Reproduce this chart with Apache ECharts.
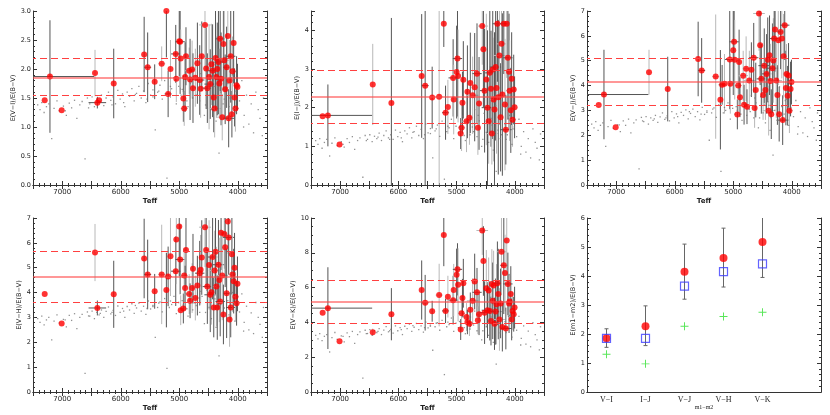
<!DOCTYPE html>
<html>
<head>
<meta charset="utf-8">
<script src="https://cdn.jsdelivr.net/npm/echarts@6/dist/echarts.min.js"></script>
<style>
  html, body { margin: 0; padding: 0; background: #fff; }
  #main { width: 830px; height: 415px; }
</style>
</head>
<body>
<div id="main"></div>
<script>
// red stars: Teff is shared by all five colour panels
const starTeff = [7300,7210,7010,6440,6400,6370,6120,5600,5540,5420,
  5300,5220,5190,5150,5060,5050,5000,4985,4975,4930,
  4915,4900,4885,4830,4815,4780,4765,4725,4690,4650,
  4635,4615,4560,4540,4520,4490,4470,4450,4430,4410,
  4395,4380,4365,4350,4330,4315,4300,4285,4265,4245,
  4230,4215,4190,4170,4155,4140,4120,4100,4090,4070,
  4055,4040,4020,4005]
const starTeffErr = [0,760,0,0,150,0,0,0,60,0,
  60,0,60,0,80,0,0,80,0,0,
  60,0,0,80,0,60,0,100,0,80,
  0,0,100,0,80,0,100,0,80,0,
  100,0,60,0,100,0,80,0,100,0,
  80,0,60,0,100,0,80,0,60,0,
  0,60,0,0]
// 1 = light grey error bar, 0 = dark grey
const starShade = [0,0,0,1,0,0,0,0,0,0, 1,0,0,1,0,1,0,0,1,0, 1,0,0,1,0,1,0,1,0,0,
  1,0,1,0,0,1,0,1,0,0, 1,0,1,0,0,1,0,0,1,0, 1,0,0,1,0,1,0,0,1,0, 0,1,0,0]

const viVal = [1.46,1.87,1.29,1.93,1.42,1.46,1.75,2.25,2.03,1.78,
  2.09,3.00,1.57,2.00,2.26,1.83,2.48,2.47,2.18,1.49,
  1.32,1.86,2.22,1.97,1.82,1.99,1.67,1.85,2.10,1.81,
  1.66,2.22,2.76,2.01,1.67,1.86,1.74,2.08,1.97,1.51,
  1.32,2.19,1.86,2.00,2.12,1.75,2.52,1.83,1.17,2.43,
  2.15,1.65,2.03,2.57,1.15,1.80,2.22,1.22,1.96,2.45,
  1.51,1.32,1.72,1.69]
const viErr = [0,0.97,0,0.4,0.1,0,0.6,0.65,0.6,0.3,
  0.3,0.8,0.4,0.5,0.5,0.4,0.6,0.9,0.5,0.4,
  0.3,0.6,0.5,0.4,0.7,0.5,0.6,0.5,0.7,0.6,
  0.5,0.6,0.8,0.7,0.6,0.9,0.6,0.7,0.8,0.6,
  0.5,0.9,0.7,0.8,0.9,0.6,0.9,0.8,0.4,0.8,
  1.0,0.6,0.7,0.9,0.5,0.7,0.8,0.4,0.6,0.7,
  0.5,0.4,0.5,0.4]

const ijVal = [1.78,1.80,1.05,2.60,null,null,2.12,2.82,2.57,2.26,
  2.28,4.17,1.87,2.02,2.77,2.21,2.92,3.27,2.82,1.33,
  1.48,2.13,2.72,1.65,2.41,1.74,2.64,2.32,2.53,2.88,
  1.48,2.11,4.11,3.51,2.44,2.73,2.00,1.65,2.90,2.49,
  1.33,2.99,2.21,1.95,3.05,2.51,4.17,2.27,3.35,1.75,
  3.65,2.34,4.17,2.08,1.43,4.17,3.29,2.93,2.44,1.93,
  2.75,1.69,2.47,2.01]
const ijErr = [0,0.8,0,1.05,0,0,2.2,1.6,2.6,0.8,
  2.3,0.6,0.7,0.7,1.0,0.9,1.2,1.5,1.2,0.4,
  0.6,0.8,1.0,0.8,1.2,0.7,1.3,1.0,1.4,1.3,
  0.7,1.2,1.0,1.5,1.6,1.7,2.0,1.1,1.6,1.5,
  0.8,1.8,1.6,2.0,1.9,1.7,1.5,2.0,1.8,1.4,
  1.9,2.1,1.3,1.7,0.9,1.4,1.6,1.5,1.3,1.1,
  1.2,0.7,0.9,0.8]

const vjVal = [3.22,3.64,2.32,4.54,null,null,3.86,5.07,4.61,null,
  4.36,3.43,4.03,4.07,5.05,4.07,5.42,5.76,5.04,2.84,
  4.00,4.95,3.53,4.40,3.23,4.68,3.15,4.20,4.64,5.12,
  3.10,3.82,6.90,5.62,4.27,3.62,4.80,3.82,4.47,5.04,
  2.99,5.22,4.18,2.85,4.70,5.01,5.89,6.26,4.20,3.62,
  5.82,2.85,6.16,5.89,2.61,5.18,6.43,3.90,4.47,3.59,
  4.41,2.99,3.86,4.14]
const vjErr = [0,1.8,0,0.9,0,0,1.3,1.5,1.3,0,
  2.5,2.0,0.8,1.2,2.0,1.2,1.8,1.7,1.6,0.6,
  1.1,1.3,0.8,1.0,0.8,1.3,0.7,1.2,1.1,1.4,
  0.8,1.1,1.5,1.6,1.4,1.0,1.5,1.2,1.6,1.7,
  1.0,1.6,1.5,1.0,1.8,1.7,1.6,1.7,1.5,1.2,
  1.8,1.1,1.5,1.6,1.0,1.7,1.4,1.5,1.2,1.2,
  1.3,0.9,1.1,0.9]

const vhVal = [3.94,null,2.76,5.61,3.38,null,3.93,5.37,4.73,4.05,
  4.73,4.10,4.65,5.46,4.86,6.14,6.66,5.33,3.29,3.36,
  4.69,4.18,5.71,3.94,3.67,4.18,4.96,3.78,4.28,4.78,
  4.92,5.41,6.63,5.71,4.24,5.11,3.91,4.01,5.43,3.40,
  4.89,5.64,4.24,3.40,5.12,4.51,3.64,6.41,4.69,3.12,
  6.36,5.82,3.97,6.86,6.22,2.92,3.40,5.54,4.73,4.46,
  5.00,3.83,3.57,4.35]
const vhErr = [0,0,0,1.15,0.3,0,1.35,1.6,1.4,0.7,
  2.0,1.5,1.2,1.6,1.4,1.8,2.0,1.4,0.6,0.6,
  1.1,0.9,1.5,0.8,0.7,1.0,1.4,0.9,1.2,1.3,
  1.4,1.5,1.6,1.5,1.5,1.8,1.5,1.3,1.7,1.2,
  1.6,1.7,1.6,1.3,1.8,1.7,1.4,1.5,1.8,1.2,
  1.4,1.6,1.8,1.3,1.5,1.1,1.2,1.6,1.5,1.3,
  1.4,1.0,0.9,1.1]

const vkVal = [4.56,4.82,2.91,3.44,null,null,4.47,5.86,5.13,4.64,
  5.57,9.03,4.66,5.48,5.28,5.86,6.74,7.05,6.16,3.59,
  4.52,5.40,6.25,4.31,4.02,3.92,4.72,5.24,6.35,5.73,
  4.12,4.47,9.28,7.53,4.56,5.96,4.70,5.83,4.66,4.08,
  6.21,5.24,6.12,3.92,4.62,5.05,6.25,5.63,4.17,5.09,
  8.06,3.73,7.28,6.84,3.65,8.70,6.21,5.09,5.20,5.63,
  4.17,4.66,4.47,4.85]
const vkErr = [0,2.35,0,0.2,0,0,1.5,1.7,1.6,0.6,
  1.8,1.8,0.7,1.2,1.4,1.5,1.5,1.5,2.1,0.6,
  1.0,1.1,1.4,0.8,0.7,0.7,1.0,1.3,1.6,1.4,
  0.8,1.2,1.4,2.0,1.8,2.2,1.6,1.9,1.7,1.4,
  2.0,2.2,2.0,1.5,1.9,2.3,2.4,2.6,1.8,2.0,
  2.5,1.4,2.8,2.2,1.2,2.0,1.8,1.7,1.5,1.6,
  1.2,1.1,1.0,1.2]

// grey background (field) stars
const bgTeff = [7420,7380,7350,7310,7270,7230,7180,7140,7090,7050,
  6980,6930,6880,6840,6790,6750,6700,6660,6610,6570,
  6530,6490,6450,6410,6370,6330,6290,6250,6210,6170,
  6130,6090,6050,6010,5970,5930,5890,5850,5810,5770,
  5730,5690,5650,5610,5570,5530,5490,5450,5410,5370,
  5330,5290,5250,5210,5170,5130,5090,5050,5010,4970,
  4930,4890,4850,4810,4770,4730,4690,4650,4610,4570,
  4530,4490,4450,4410,4370,4330,4290,4250,4210,4170,
  4130,4090,4050,4010,3970,3930,3890,3850,3810,3770,
  3730,3690,3650,3620,3580,3560,4470,4320,4150,3900,
  4950,4870,4790,4710,4630,4550,4390,4230,4110,4030,
  5950,5750,5550,5350,6150,6350,6550,6950,5150,5450]
const bgVI = [1.38,1.30,1.42,1.25,1.35,1.40,0.80,1.32,1.45,1.28,
  1.36,1.20,1.41,1.33,1.46,1.15,1.38,1.44,0.45,1.50,
  1.40,1.52,1.35,1.48,1.43,1.55,1.37,1.50,1.60,1.46,
  1.52,1.40,1.63,1.48,1.57,1.35,1.60,1.53,1.66,1.45,
  1.58,1.70,1.50,1.62,1.42,1.75,1.55,1.64,0.95,1.60,
  1.72,1.48,1.80,0.12,1.58,1.66,1.85,1.40,1.70,1.55,
  1.62,1.90,1.35,1.75,1.50,1.68,2.05,1.45,1.80,1.20,
  1.95,1.55,1.30,1.85,1.10,2.10,1.60,1.40,2.20,1.75,
  1.50,1.90,1.25,1.65,1.45,1.80,1.20,1.55,1.05,1.40,
  0.90,1.60,1.30,1.15,0.85,1.50,1.72,0.55,1.35,1.00,
  1.65,1.45,1.78,1.55,1.92,1.38,1.70,1.48,1.85,1.62,
  1.42,1.56,1.48,1.62,1.38,1.44,1.33,1.28,1.70,1.52]
const bgIJ = [1.15,1.05,1.20,0.95,1.10,1.18,0.75,1.08,1.22,1.02,
  1.12,0.98,1.20,1.10,1.25,0.92,1.15,1.22,0.20,1.28,
  1.18,1.30,1.12,1.26,1.20,1.34,1.15,1.28,1.40,1.22,
  1.30,1.18,1.42,1.25,1.36,1.12,1.40,1.32,1.48,1.22,
  1.38,1.52,1.28,1.44,1.20,1.58,1.35,1.46,0.70,1.40,
  1.55,1.26,1.65,0.15,1.38,1.48,1.70,1.20,1.52,1.35,
  1.45,1.78,1.15,1.60,1.30,1.50,1.95,1.25,1.66,1.00,
  1.85,1.36,1.10,1.72,0.90,2.05,1.42,1.20,2.15,1.58,
  1.30,1.80,1.05,1.50,1.25,1.70,1.00,1.38,0.85,1.20,
  0.70,1.45,1.10,0.95,0.65,1.32,1.60,0.35,1.18,0.80,
  1.50,1.28,1.62,1.38,1.80,1.18,1.55,1.30,1.72,1.45,
  1.22,1.36,1.30,1.45,1.18,1.24,1.15,1.05,1.52,1.33]
const bgVJ = [2.45,2.30,2.55,2.20,2.40,2.50,1.55,2.35,2.60,2.28,
  2.42,2.15,2.58,2.40,2.65,2.10,2.50,2.62,0.65,2.72,
  2.55,2.75,2.45,2.70,2.60,2.80,2.52,2.74,2.90,2.64,
  2.78,2.58,2.95,2.70,2.86,2.50,2.92,2.80,3.02,2.66,
  2.88,3.05,2.75,2.95,2.62,3.12,2.84,2.98,1.80,2.90,
  3.10,2.72,3.22,0.55,2.90,3.00,3.30,2.65,3.08,2.85,
  3.00,3.40,2.60,3.20,2.80,3.05,3.60,2.70,3.30,2.30,
  3.55,2.90,2.50,3.35,2.20,3.80,3.00,2.60,3.95,3.15,
  2.85,3.45,2.40,3.10,2.75,3.40,2.35,2.95,2.10,2.70,
  1.95,3.10,2.55,2.30,1.80,2.90,3.25,1.20,2.65,2.05,
  3.15,2.85,3.28,2.95,3.50,2.70,3.20,2.88,3.40,3.05,
  2.75,2.95,2.85,3.05,2.70,2.66,2.58,2.42,3.12,2.92]
const bgVH = [2.95,2.80,3.05,2.70,2.90,3.00,2.10,2.85,3.10,2.78,
  2.92,2.62,3.08,2.88,3.15,2.55,3.00,3.12,0.75,3.22,
  3.05,3.25,2.95,3.20,3.10,3.30,3.00,3.24,3.42,3.14,
  3.28,3.08,3.46,3.20,3.36,3.00,3.44,3.30,3.55,3.16,
  3.38,3.58,3.25,3.45,3.12,3.66,3.34,3.48,2.20,3.40,
  3.62,3.22,3.76,0.95,3.40,3.52,3.85,3.15,3.60,3.35,
  3.50,3.95,3.05,3.72,3.30,3.58,4.20,3.20,3.85,2.75,
  4.10,3.40,2.95,3.90,2.60,4.40,3.52,3.08,4.55,3.68,
  3.35,4.00,2.85,3.62,3.22,3.95,2.80,3.45,2.50,3.18,
  2.35,3.60,3.00,2.72,2.20,3.40,3.80,1.45,3.10,2.45,
  3.68,3.35,3.82,3.48,4.05,3.20,3.75,3.38,3.95,3.58,
  3.25,3.48,3.36,3.58,3.20,3.16,3.06,2.90,3.66,3.44]
const bgVK = [3.25,3.05,3.35,2.95,3.20,3.30,2.30,3.12,3.42,3.02,
  3.22,2.88,3.40,3.18,3.48,2.80,3.30,3.45,0.80,3.55,
  3.36,3.58,3.25,3.52,3.42,3.64,3.30,3.56,3.76,3.46,
  3.60,3.38,3.80,3.52,3.70,3.30,3.78,3.64,3.90,3.48,
  3.72,3.94,3.58,3.80,3.44,4.02,3.68,3.84,2.40,3.75,
  3.98,3.55,4.12,1.00,3.75,3.88,4.25,3.48,3.96,3.70,
  3.85,4.35,3.35,4.10,3.62,3.95,4.65,3.52,4.25,3.00,
  4.50,3.75,3.25,4.30,2.85,4.85,3.88,3.40,5.00,4.05,
  3.70,4.40,3.15,4.00,3.55,4.35,3.08,3.80,2.75,3.50,
  2.60,3.98,3.30,3.00,2.42,3.75,4.20,1.60,3.42,2.70,
  4.05,3.70,4.20,3.85,4.45,3.52,4.12,3.72,4.35,3.95,
  3.58,3.82,3.70,3.95,3.52,3.48,3.36,3.20,4.02,3.78]

// summary panel
const colourNames = ['V−I', 'I−J', 'V−J', 'V−H', 'V−K', '']
const meanRatio = [1.85, 2.27, 4.15, 4.62, 5.17]
const ratioLow = [1.54, 1.60, 3.20, 3.62, 3.95]
const ratioHigh = [2.18, 2.97, 5.10, 5.65, 6.40]
const squareRatio = [1.85, 1.85, 3.65, 4.15, 4.42]
const crossRatio = [1.30, 0.97, 2.27, 2.60, 2.75]

const panels = [
  { name: 'E(V−I)/E(B−V)', max: 3, step: 0.5, minor: 5, vals: viVal, errs: viErr, bg: bgVI },
  { name: 'E(I−J)/E(B−V)', max: 4.5, step: 1, minor: 5, vals: ijVal, errs: ijErr, bg: bgIJ },
  { name: 'E(V−J)/E(B−V)', max: 7, step: 1, minor: 5, vals: vjVal, errs: vjErr, bg: bgVJ },
  { name: 'E(V−H)/E(B−V)', max: 7, step: 1, minor: 5, vals: vhVal, errs: vhErr, bg: bgVH },
  { name: 'E(V−K)/E(B−V)', max: 10, step: 2, minor: 4, vals: vkVal, errs: vkErr, bg: bgVK }
]

const gridBoxes = [
  { left: 33, top: 11, width: 234, height: 174 },
  { left: 311, top: 11, width: 233, height: 174 },
  { left: 587, top: 11, width: 234, height: 174 },
  { left: 33, top: 218, width: 234, height: 174 },
  { left: 311, top: 218, width: 233, height: 174 },
  { left: 587, top: 218, width: 234, height: 174 }
]

const FONT = 'DejaVu Sans'
const axisLine = { show: true, lineStyle: { color: '#333', width: 1 } }
const tick = { show: true, inside: true, length: 4, lineStyle: { color: '#333' } }
const minor = n => ({ show: true, splitNumber: n, length: 2, lineStyle: { color: '#333' } })

const xAxis = []
const yAxis = []
const series = []

panels.forEach((p, gi) => {
  const xBase = {
    gridIndex: gi, type: 'value', min: 3500, max: 7500, interval: 500, inverse: true,
    axisLine, axisTick: tick, minorTick: minor(5), splitLine: { show: false }
  }
  xAxis.push(Object.assign({}, xBase, {
    position: 'bottom', name: 'Teff', nameLocation: 'middle', nameGap: 13,
    nameTextStyle: { fontSize: 7, fontFamily: FONT, fontWeight: 'bold', color: '#222' },
    axisLabel: {
      fontSize: 7, fontFamily: FONT, color: '#222', margin: 4,
      formatter: v => (v % 1000 === 0) ? String(v) : ''
    }
  }))
  xAxis.push(Object.assign({}, xBase, { position: 'top', axisLabel: { show: false } }))

  const yBase = {
    gridIndex: gi, type: 'value', min: 0, max: p.max, interval: p.step,
    axisLine, axisTick: tick, minorTick: minor(p.minor), splitLine: { show: false }
  }
  yAxis.push(Object.assign({}, yBase, {
    position: 'left', name: p.name, nameLocation: 'middle', nameGap: p.step < 1 ? 11 : 8,
    nameTextStyle: { fontSize: 6.5, fontFamily: FONT, color: '#222' },
    axisLabel: {
      fontSize: 6.5, fontFamily: FONT, color: '#222', margin: 2,
      formatter: v => p.step < 1 ? v.toFixed(1) : (Number.isInteger(v) ? String(v) : '')
    }
  }))
  yAxis.push(Object.assign({}, yBase, { position: 'right', axisLabel: { show: false } }))

  const xi = gi * 2
  const bgData = bgTeff.map((t, i) => [t, p.bg[i]])
  const starData = []
  starTeff.forEach((t, i) => {
    if (p.vals[i] != null) starData.push([t, p.vals[i], p.errs[i], starTeffErr[i], starShade[i]])
  })
  const lo = ratioLow[gi], hi = ratioHigh[gi], mean = meanRatio[gi]

  series.push({
    type: 'scatter', xAxisIndex: xi, yAxisIndex: xi, data: bgData,
    symbol: 'rect', symbolSize: 1.3, itemStyle: { color: '#777' }, silent: true
  })
  series.push({
    type: 'custom', xAxisIndex: xi, yAxisIndex: xi, clip: true, silent: true,
    data: starData,
    renderItem: (params, api) => {
      const x = api.value(0), y = api.value(1), ey = api.value(2), ex = api.value(3)
      const color = api.value(4) ? '#b8b8b8' : '#555'
      const kids = []
      if (ey > 0) {
        const a = api.coord([x, y - ey]), b = api.coord([x, y + ey])
        kids.push({ type: 'line', shape: { x1: a[0], y1: a[1], x2: b[0], y2: b[1] }, style: { stroke: color, lineWidth: 1 } })
      }
      if (ex > 0) {
        const a = api.coord([x - ex, y]), b = api.coord([x + ex, y])
        kids.push({ type: 'line', shape: { x1: a[0], y1: a[1], x2: b[0], y2: b[1] }, style: { stroke: color, lineWidth: 1 } })
      }
      return { type: 'group', children: kids }
    }
  })
  series.push({
    type: 'scatter', xAxisIndex: xi, yAxisIndex: xi, data: [], silent: true,
    markLine: {
      silent: true, symbol: 'none', label: { show: false }, animation: false,
      data: [
        { yAxis: mean, lineStyle: { type: 'solid', width: 1.6, color: 'rgba(255,70,70,0.75)' } },
        { yAxis: hi, lineStyle: { type: [7, 4], width: 1.2, color: '#ff4040' } },
        { yAxis: lo, lineStyle: { type: [7, 4], width: 1.2, color: '#ff4040' } }
      ]
    }
  })
  series.push({
    type: 'scatter', xAxisIndex: xi, yAxisIndex: xi, data: starData.map(d => [d[0], d[1]]),
    symbol: 'circle', symbolSize: 6, itemStyle: { color: '#ff0000' }, silent: true
  })
})

// summary panel (grid 5)
const sXBase = {
  gridIndex: 5, type: 'category', data: colourNames, boundaryGap: true,
  axisLine, axisTick: { show: false }, splitLine: { show: false }
}
xAxis.push(Object.assign({}, sXBase, {
  position: 'bottom', name: 'm1−m2', nameLocation: 'middle', nameGap: 12,
  nameTextStyle: { fontSize: 6, fontFamily: 'Liberation Serif', color: '#222' },
  axisLabel: { fontSize: 8, fontFamily: 'Liberation Serif', color: '#222', margin: 4, interval: 0 }
}))
xAxis.push(Object.assign({}, sXBase, { position: 'top', axisLabel: { show: false } }))
const sYBase = {
  gridIndex: 5, type: 'value', min: 0, max: 6, interval: 1,
  axisLine, axisTick: tick, minorTick: minor(5), splitLine: { show: false }
}
yAxis.push(Object.assign({}, sYBase, {
  position: 'left', name: 'E(m1−m2)/E(B−V)', nameLocation: 'middle', nameGap: 8,
  nameTextStyle: { fontSize: 6.5, fontFamily: FONT, color: '#222' },
  axisLabel: { fontSize: 6.5, fontFamily: FONT, color: '#222', margin: 2 }
}))
yAxis.push(Object.assign({}, sYBase, { position: 'right', axisLabel: { show: false } }))

series.push({
  type: 'custom', xAxisIndex: 10, yAxisIndex: 10, clip: true, silent: true,
  data: meanRatio.map((m, i) => [i, ratioLow[i], ratioHigh[i]]),
  renderItem: (params, api) => {
    const a = api.coord([api.value(0), api.value(1)])
    const b = api.coord([api.value(0), api.value(2)])
    const st = { stroke: '#666', lineWidth: 1 }
    return {
      type: 'group', children: [
        { type: 'line', shape: { x1: a[0], y1: a[1], x2: b[0], y2: b[1] }, style: st },
        { type: 'line', shape: { x1: a[0] - 2, y1: a[1], x2: a[0] + 2, y2: a[1] }, style: st },
        { type: 'line', shape: { x1: b[0] - 2, y1: b[1], x2: b[0] + 2, y2: b[1] }, style: st }
      ]
    }
  }
})
series.push({
  type: 'scatter', xAxisIndex: 10, yAxisIndex: 10, data: meanRatio, silent: true,
  symbol: 'circle', symbolSize: 8, itemStyle: { color: '#ff0000' }
})
series.push({
  type: 'scatter', xAxisIndex: 10, yAxisIndex: 10, data: squareRatio, silent: true,
  symbol: 'rect', symbolSize: 8, itemStyle: { color: 'rgba(0,0,0,0)', borderColor: '#3c3cff', borderWidth: 1.2 }
})
series.push({
  type: 'scatter', xAxisIndex: 10, yAxisIndex: 10, data: crossRatio, silent: true,
  symbol: 'path://M0,4.4H10V5.6H0Z M4.4,0H5.6V10H4.4Z', symbolSize: 8,
  itemStyle: { color: '#2ee02e' }
})

const chart = echarts.init(document.getElementById('main'), null, { renderer: 'canvas' })
chart.setOption({
  animation: false,
  backgroundColor: '#fff',
  grid: gridBoxes,
  xAxis,
  yAxis,
  series
})
</script>
</body>
</html>
